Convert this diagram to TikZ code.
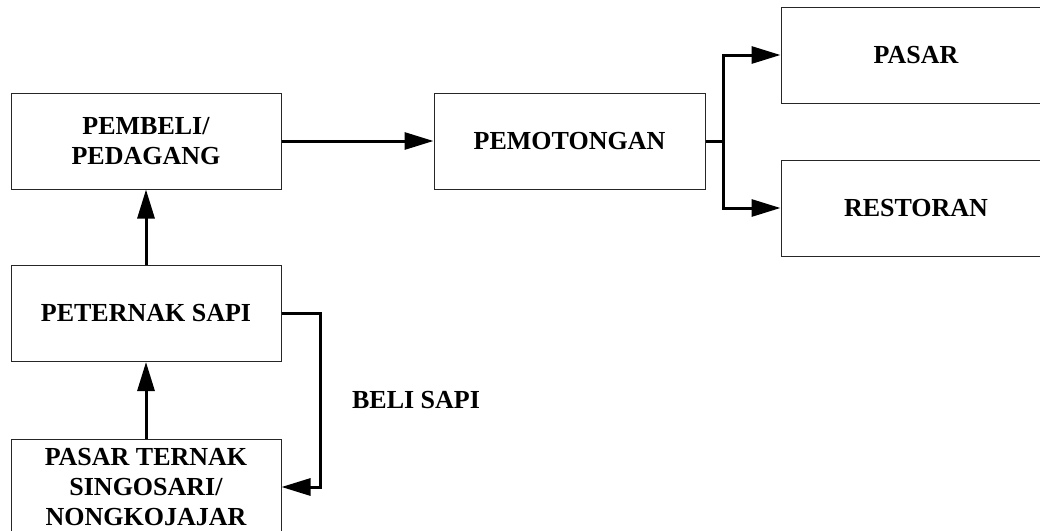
\documentclass[tikz,border=0pt]{standalone}
\usepackage{fontspec}
\setmainfont{Liberation Serif}
\usetikzlibrary{arrows.meta}
\tikzset{
  box/.style={draw=black!85, line width=1pt, minimum width=270pt, minimum height=96pt, inner sep=0pt, align=center,
    font=\fontsize{26}{30}\selectfont\bfseries},
  conn/.style={line width=3pt, -{Triangle[length=29pt,width=17pt]}},
  plain/.style={line width=3pt},
  lbl/.style={font=\fontsize{26}{30}\selectfont\bfseries, inner sep=0pt}
}
\begin{document}
\begin{tikzpicture}[x=1pt,y=-1pt]
\useasboundingbox (0,0) rectangle (1040,530);
\clip (0,0) rectangle (1040,530);
\node[box] (pembeli) at (146,141) {PEMBELI/\\PEDAGANG};
\node[box, minimum width=271pt] (potong) at (569.5,141) {PEMOTONGAN};
\node[box] (pasar) at (916,55) {PASAR};
\node[box] (resto) at (916,208) {RESTORAN};
\node[box] (peternak) at (146,313.5) {PETERNAK SAPI};
\node[box] (ternak) at (146,487) {PASAR TERNAK\\SINGOSARI/\\NONGKOJAJAR};
\node[lbl] (beli) at (416,400) {BELI SAPI};
\coordinate (split) at (723,141);
\draw[conn] (pembeli.east) -- (potong.west);
\draw[plain] (potong.east) -- (split);
\draw[conn] (split) |- (pasar.west);
\draw[conn] (split) |- (resto.west);
\draw[conn] (peternak.north) -- (pembeli.south);
\draw[conn] (ternak.north) -- (peternak.south);
\coordinate (loop) at (320,487);
\draw[conn] (peternak.east) -| (loop) -- (ternak.east);
\end{tikzpicture}
\end{document}
